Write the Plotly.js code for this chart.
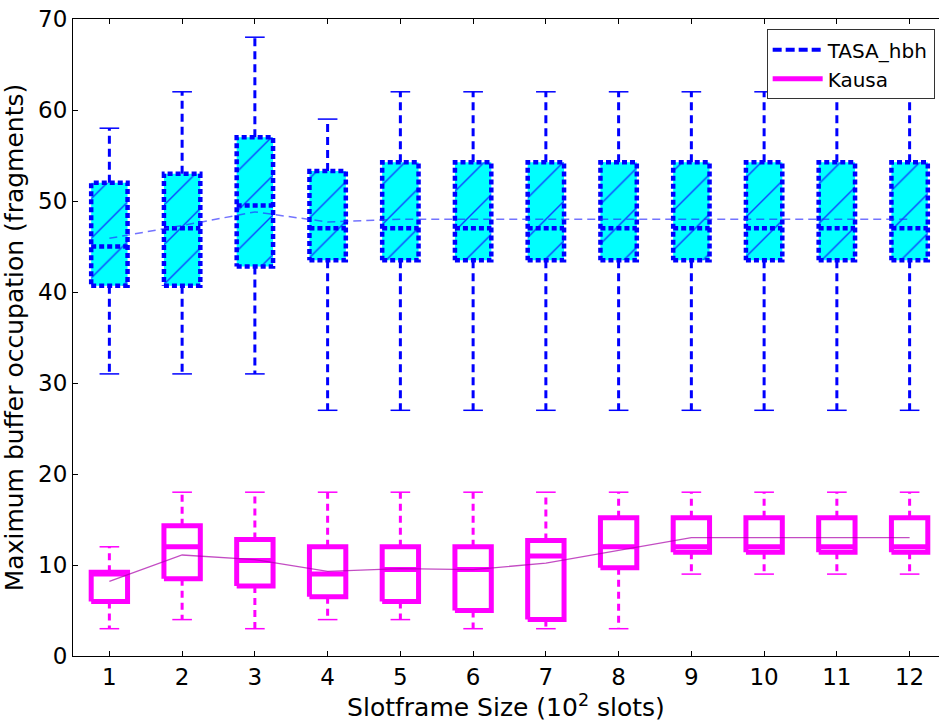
<!DOCTYPE html>
<html>
<head>
<meta charset="utf-8">
<script src="https://cdn.plot.ly/plotly-3.0.1.min.js"></script>
<style>html,body{margin:0;padding:0;background:#fff;}#chart{width:939px;height:724px;}</style>
</head>
<body>
<div id="chart"></div>
<script>
// Slotframe sizes (10^2 slots)
var slotframes = [1, 2, 3, 4, 5, 6, 7, 8, 9, 10, 11, 12];

// TASA_hbh box statistics
var tasaMin  = [31, 31, 31, 27, 27, 27, 27, 27, 27, 27, 27, 27];
var tasaQ1   = [40.7, 40.7, 42.8, 43.5, 43.5, 43.5, 43.5, 43.5, 43.5, 43.5, 43.5, 43.5];
var tasaMed  = [45, 47, 49.5, 47, 47, 47, 47, 47, 47, 47, 47, 47];
var tasaQ3   = [52, 53, 57, 53.3, 54.25, 54.25, 54.25, 54.25, 54.25, 54.25, 54.25, 54.25];
var tasaMax  = [58, 62, 68, 59, 62, 62, 62, 62, 62, 62, 62, 62];
var tasaMean = [45.9, 47.3, 48.8, 47.7, 48, 48, 48, 48, 48, 48, 48, 48];

// Kausa box statistics
var kausaMin  = [3, 4, 3, 4, 4, 3, 3, 3, 9, 9, 9, 9];
var kausaQ1   = [6, 8.5, 7.7, 6.5, 6, 5, 4, 9.7, 11.4, 11.4, 11.4, 11.4];
var kausaMed  = [9, 12, 10.5, 9, 9.5, 9.5, 11, 12, 12, 12, 12, 12];
var kausaQ3   = [9.2, 14.3, 12.8, 12, 12, 12, 12.7, 15.2, 15.2, 15.2, 15.2, 15.2];
var kausaMax  = [12, 18, 18, 18, 18, 18, 18, 18, 18, 18, 18, 18];
var kausaMean = [8.2, 11.1, 10.6, 9.3, 9.6, 9.5, 10.2, 11.6, 13, 13, 13, 13];

var yTicks = [0, 10, 20, 30, 40, 50, 60, 70];

var BOX_HALF = 0.25, CAP_HALF = 0.135;

function rects(xs, lo, hi, hw) {
  var x = [], y = [];
  for (var i = 0; i < xs.length; i++) {
    x.push(xs[i] - hw, xs[i] + hw, xs[i] + hw, xs[i] - hw, xs[i] - hw, null);
    y.push(lo[i], lo[i], hi[i], hi[i], lo[i], null);
  }
  return {x: x, y: y};
}
function hsegs(xs, v, hw) {
  var x = [], y = [];
  for (var i = 0; i < xs.length; i++) {
    x.push(xs[i] - hw, xs[i] + hw, null);
    y.push(v[i], v[i], null);
  }
  return {x: x, y: y};
}
function whiskers(xs, q1, q3, lo, hi) {
  var x = [], y = [];
  for (var i = 0; i < xs.length; i++) {
    x.push(xs[i], xs[i], null, xs[i], xs[i], null);
    y.push(q3[i], hi[i], null, q1[i], lo[i], null);
  }
  return {x: x, y: y};
}
function caps(xs, lo, hi, hw) {
  var a = hsegs(xs, lo, hw), b = hsegs(xs, hi, hw);
  return {x: a.x.concat(b.x), y: a.y.concat(b.y)};
}

var BLUE = '#0000ff', MAG = '#ff00ff';
var traces = [];
function seg(d, line, extra) {
  var t = {type: 'scatter', mode: 'lines', x: d.x, y: d.y, line: line,
           showlegend: false, hoverinfo: 'skip', connectgaps: false};
  for (var k in extra) t[k] = extra[k];
  traces.push(t);
}

// TASA_hbh
var tb = rects(slotframes, tasaQ1, tasaQ3, BOX_HALF);
seg(tb, {width: 0, color: 'rgba(0,0,0,0)'}, {fill: 'toself', fillcolor: '#00ffff',
  fillpattern: {shape: '/', fgcolor: '#1040ff', bgcolor: '#00ffff', size: 28, solidity: 0.05, fillmode: 'replace'}});
seg(whiskers(slotframes, tasaQ1, tasaQ3, tasaMin, tasaMax), {color: BLUE, width: 3, dash: '8px,5px'});
seg(caps(slotframes, tasaMin, tasaMax, CAP_HALF), {color: BLUE, width: 1.5});
seg(tb, {color: BLUE, width: 4.5, dash: '5px,3px'});
seg(hsegs(slotframes, tasaMed, BOX_HALF), {color: BLUE, width: 4.5, dash: '5px,3px'});
traces.push({type: 'scatter', mode: 'lines', x: slotframes, y: tasaMean, showlegend: false,
  hoverinfo: 'skip', line: {color: 'rgba(40,40,255,0.65)', width: 1.5, dash: '8px,5px'}});

// Kausa
var kb = rects(slotframes, kausaQ1, kausaQ3, BOX_HALF);
seg(whiskers(slotframes, kausaQ1, kausaQ3, kausaMin, kausaMax), {color: MAG, width: 3, dash: '7px,5px'});
seg(caps(slotframes, kausaMin, kausaMax, CAP_HALF), {color: MAG, width: 1.5});
seg(kb, {color: MAG, width: 5});
seg(hsegs(slotframes, kausaMed, BOX_HALF), {color: MAG, width: 5});
traces.push({type: 'scatter', mode: 'lines', x: slotframes, y: kausaMean, showlegend: false,
  hoverinfo: 'skip', line: {color: 'rgba(170,0,170,0.7)', width: 1.3}});

// legend entries
traces.push({type: 'scatter', mode: 'lines', x: [null], y: [null], name: 'TASA_hbh',
  line: {color: BLUE, width: 4, dash: '9px,4px'}});
traces.push({type: 'scatter', mode: 'lines', x: [null], y: [null], name: 'Kausa',
  line: {color: MAG, width: 5}});

var FONT = 'DejaVu Sans, sans-serif';
var layout = {
  width: 939, height: 724,
  margin: {l: 73, r: 0, t: 19, b: 68},
  paper_bgcolor: '#ffffff', plot_bgcolor: '#ffffff',
  font: {family: FONT, color: '#000000'},
  showlegend: true,
  legend: {x: 0.995, y: 0.984, xanchor: 'right', yanchor: 'top',
    bgcolor: '#ffffff', bordercolor: '#333333', borderwidth: 1,
    font: {family: FONT, size: 20, color: '#000000'}, itemwidth: 50},
  xaxis: {
    range: [0.5, 12.404], tickvals: slotframes, ticktext: slotframes.map(String),
    ticks: 'inside', ticklen: 5, tickcolor: '#000', showline: true, linecolor: '#000',
    linewidth: 1, mirror: 'ticks', showgrid: false, zeroline: false,
    tickfont: {family: FONT, size: 23},
    title: {text: 'Slotframe Size (10<sup>2</sup> slots)', font: {family: FONT, size: 25}, standoff: 6}
  },
  yaxis: {
    range: [0, 70], tickvals: yTicks, ticktext: yTicks.map(String),
    ticks: 'inside', ticklen: 5, tickcolor: '#000', showline: true, linecolor: '#000',
    linewidth: 1, showgrid: false, zeroline: false,
    tickfont: {family: FONT, size: 23},
    title: {text: 'Maximum buffer occupation (fragments)', font: {family: FONT, size: 25}, standoff: 8}
  }
};

Plotly.newPlot('chart', traces, layout, {displayModeBar: false, staticPlot: true});
</script>
</body>
</html>
